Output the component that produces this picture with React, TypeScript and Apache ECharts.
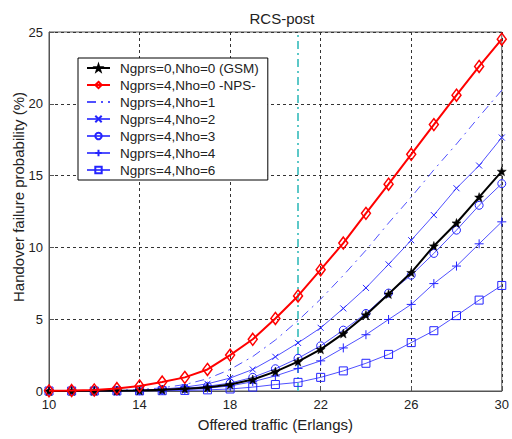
import { useEffect, useRef } from "react";
import * as echarts from "echarts";

// Offered traffic (Erlangs) at which each curve is sampled
const traffic = [10, 11, 12, 13, 14, 15, 16, 17, 18, 19, 20, 21, 22, 23, 24, 25, 26, 27, 28, 29, 30];

// Handover failure probability (%) per configuration
const gsm = [0, 0.005, 0.01, 0.02, 0.04, 0.08, 0.15, 0.25, 0.45, 0.8, 1.35, 2.05, 2.9, 4.0, 5.3, 6.75, 8.25, 10.1, 11.7, 13.5, 15.3];
const nps = [0.01, 0.03, 0.07, 0.17, 0.35, 0.62, 0.95, 1.5, 2.5, 3.6, 5.05, 6.62, 8.45, 10.3, 12.37, 14.4, 16.48, 18.55, 20.6, 22.6, 24.5];
const nho1 = [0, 0.01, 0.02, 0.05, 0.1, 0.22, 0.45, 0.85, 1.5, 2.4, 3.55, 4.9, 6.4, 8.05, 9.8, 11.7, 13.5, 15.4, 17.2, 19.1, 20.95];
const nho2 = [0, 0.005, 0.01, 0.03, 0.06, 0.13, 0.27, 0.5, 0.9, 1.5, 2.38, 3.35, 4.4, 5.75, 7.18, 8.82, 10.5, 12.25, 14.12, 15.7, 17.65];
const nho3 = [0, 0.005, 0.01, 0.02, 0.04, 0.09, 0.18, 0.33, 0.55, 0.95, 1.55, 2.28, 3.15, 4.24, 5.4, 6.82, 8.06, 9.58, 11.2, 12.93, 14.44];
const nho4 = [0, 0, 0.005, 0.01, 0.02, 0.05, 0.1, 0.2, 0.35, 0.65, 1.05, 1.57, 2.1, 3.0, 3.92, 4.98, 6.03, 7.48, 8.7, 10.25, 11.78];
const nho6 = [0, 0, 0, 0.005, 0.01, 0.02, 0.04, 0.08, 0.14, 0.27, 0.45, 0.6, 0.95, 1.4, 1.93, 2.55, 3.37, 4.2, 5.25, 6.33, 7.35];

const seriesNames = [
  "Ngprs=0,Nho=0 (GSM)",
  "Ngprs=4,Nho=0 -NPS-",
  "Ngprs=4,Nho=1",
  "Ngprs=4,Nho=2",
  "Ngprs=4,Nho=3",
  "Ngprs=4,Nho=4",
  "Ngprs=4,Nho=6",
];

// Reference traffic level marked by the vertical line
const markTraffic = 21;

const xTicks = { min: 10, max: 30, interval: 4 };
const yTicks = { min: 0, max: 25, interval: 5 };

const FONT = "'Liberation Sans', Arial, Helvetica, sans-serif";
const BLUE_LINE = "#5050ff";
const BLUE_MARK = "#2424ff";

// five-pointed star marker
const starSymbol = (() => {
  let d = "";
  for (let k = 0; k < 10; k++) {
    const r = k % 2 === 0 ? 10 : 4;
    const a = -Math.PI / 2 + (k * Math.PI) / 5;
    d += (k ? "L" : "M") + (10 + r * Math.cos(a)).toFixed(2) + " " + (10 + r * Math.sin(a)).toFixed(2) + " ";
  }
  return "path://" + d + "Z";
})();
const plusSymbol = "path://M5 0 L5 10 M0 5 L10 5";
const crossSymbol = "path://M0 0 L10 10 M10 0 L0 10";

const toPoints = (ys: number[]) => traffic.map((x, i) => [x, ys[i]]);

export default function App() {
  const ref = useRef<HTMLDivElement>(null);

  useEffect(() => {
    if (!ref.current) return;
    const chart = echarts.init(ref.current, null, { renderer: "svg" });

    const hollow = (stroke: string, width = 1) => ({
      color: "rgba(0,0,0,0)",
      borderColor: stroke,
      borderWidth: width,
    });

    const series: any[] = [
      {
        name: seriesNames[0],
        type: "line",
        data: toPoints(gsm),
        symbol: starSymbol,
        symbolSize: 9,
        lineStyle: { color: "#000", width: 2 },
        itemStyle: { color: "#000", borderColor: "#000", borderWidth: 0.5 },
        z: 3,
      },
      {
        name: seriesNames[1],
        type: "line",
        data: toPoints(nps),
        symbol: "diamond",
        symbolSize: [9, 12],
        lineStyle: { color: "#ff0000", width: 2 },
        itemStyle: hollow("#ff0000", 1.5),
        z: 4,
      },
      {
        name: seriesNames[2],
        type: "line",
        data: toPoints(nho1),
        symbol: "none",
        lineStyle: { color: BLUE_LINE, width: 1, type: [9, 5, 2, 5] },
        itemStyle: { color: "rgba(0,0,0,0)", borderWidth: 0 },
        z: 2,
      },
      {
        name: seriesNames[3],
        type: "line",
        data: toPoints(nho2),
        symbol: crossSymbol,
        symbolSize: 6,
        lineStyle: { color: BLUE_LINE, width: 1 },
        itemStyle: hollow(BLUE_MARK, 1),
        z: 2,
      },
      {
        name: seriesNames[4],
        type: "line",
        data: toPoints(nho3),
        symbol: "circle",
        symbolSize: 8,
        lineStyle: { color: BLUE_LINE, width: 1 },
        itemStyle: hollow(BLUE_MARK, 1),
        z: 2,
      },
      {
        name: seriesNames[5],
        type: "line",
        data: toPoints(nho4),
        symbol: plusSymbol,
        symbolSize: 9,
        lineStyle: { color: BLUE_LINE, width: 1 },
        itemStyle: hollow(BLUE_MARK, 1),
        z: 2,
      },
      {
        name: seriesNames[6],
        type: "line",
        data: toPoints(nho6),
        symbol: "rect",
        symbolSize: 8,
        lineStyle: { color: BLUE_LINE, width: 1 },
        itemStyle: hollow(BLUE_MARK, 1),
        z: 2,
        markLine: {
          silent: true,
          symbol: ["none", "none"],
          label: { show: false },
          lineStyle: { color: "#5cc8c8", width: 2, type: [8, 4, 2, 4] },
          data: [{ xAxis: markTraffic }],
          z: 1,
        },
      },
    ];

    chart.setOption({
      animation: false,
      backgroundColor: "#fff",
      textStyle: { fontFamily: FONT },
      title: {
        text: "RCS-post",
        left: 277,
        top: 6,
        textAlign: "center",
        textStyle: { fontFamily: FONT, fontSize: 15, fontWeight: "normal", color: "#222" },
      },
      grid: {
        left: 49,
        right: 6.5,
        top: 32,
        bottom: 48,
        show: true,
        borderColor: "#555",
        borderWidth: 1,
        backgroundColor: "#fff",
      },
      legend: {
        orient: "vertical",
        left: 78,
        top: 58,
        data: seriesNames,
        backgroundColor: "#fff",
        borderColor: "#000",
        borderWidth: 1,
        borderRadius: 0,
        padding: [3, 9, 3, 8],
        itemWidth: 23,
        itemHeight: 8,
        itemGap: 3,
        selectedMode: false,
        textStyle: {
          fontFamily: FONT,
          fontSize: 13.5,
          color: "#222",
          lineHeight: 14,
          padding: [0, 0, 0, 5],
        },
        z: 10,
      },
      xAxis: {
        type: "value",
        min: xTicks.min,
        max: xTicks.max,
        interval: xTicks.interval,
        name: "Offered traffic (Erlangs)",
        nameLocation: "middle",
        nameGap: 26,
        nameTextStyle: { fontFamily: FONT, fontSize: 15, color: "#222" },
        axisLine: { show: true, lineStyle: { color: "#555", width: 1 } },
        axisTick: { show: true, inside: true, length: 5, lineStyle: { color: "#555" } },
        axisLabel: { fontFamily: FONT, fontSize: 13, color: "#222", margin: 7 },
        splitLine: { show: true, lineStyle: { color: "#333", width: 1, type: [3, 3] } },
      },
      yAxis: {
        type: "value",
        min: yTicks.min,
        max: yTicks.max,
        interval: yTicks.interval,
        axisLine: { show: true, lineStyle: { color: "#555", width: 1 } },
        axisTick: { show: true, inside: true, length: 5, lineStyle: { color: "#555" } },
        axisLabel: { fontFamily: FONT, fontSize: 13, color: "#222", margin: 6 },
        splitLine: { show: true, lineStyle: { color: "#333", width: 1, type: [3, 3] } },
      },
      graphic: [
        {
          type: "text",
          x: 18,
          y: 197,
          rotation: Math.PI / 2,
          style: {
            text: "Handover failure probability (%)",
            font: `15px ${FONT}`,
            fill: "#222",
            textAlign: "center",
            textVerticalAlign: "middle",
          },
        },
      ],
      series,
    });

    return () => chart.dispose();
  }, []);

  return (
    <div
      ref={ref}
      style={{ position: "fixed", left: 0, top: 0, width: 512, height: 439 }}
    />
  );
}
